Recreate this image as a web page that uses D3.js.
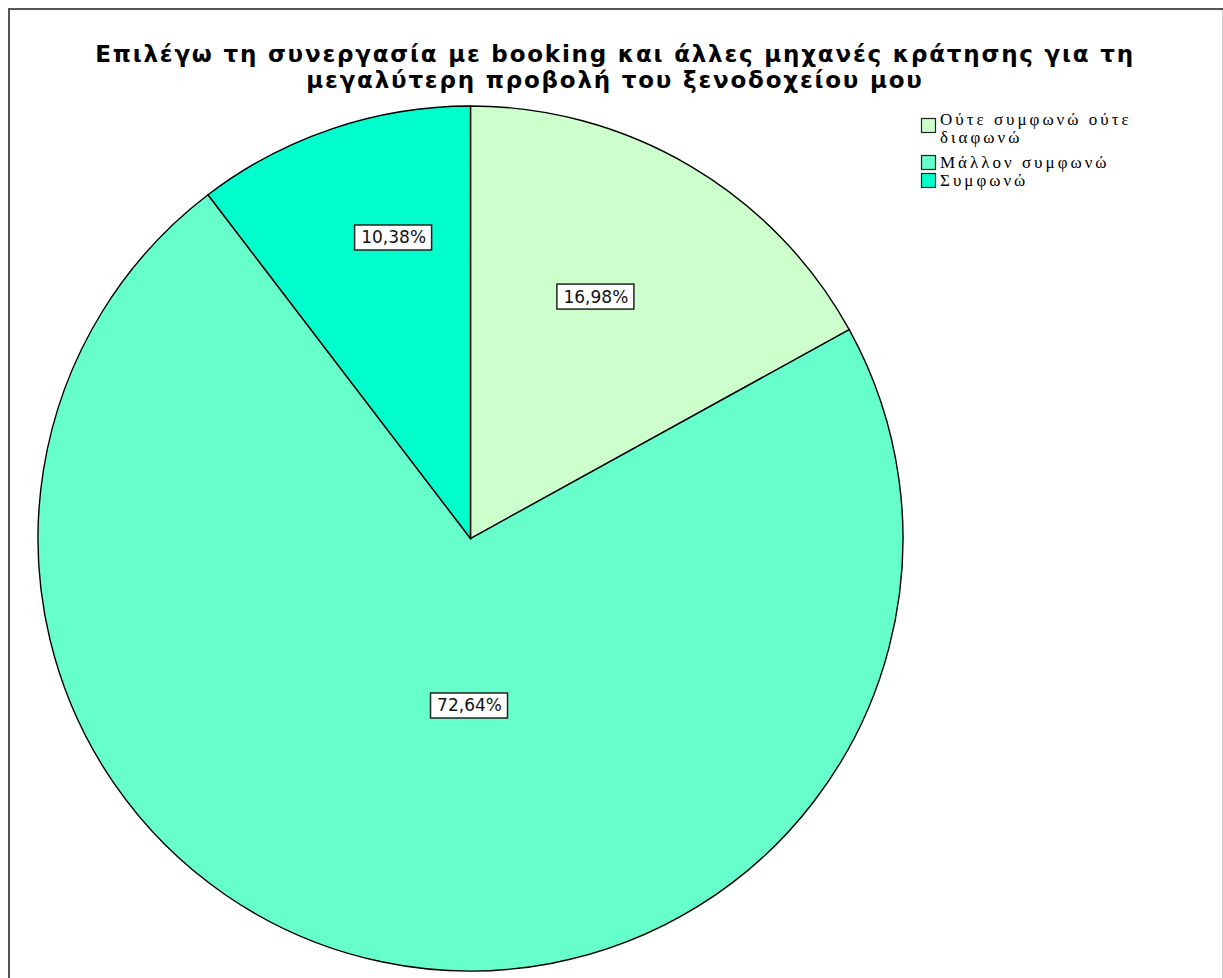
<!DOCTYPE html>
<html>
<head>
<meta charset="utf-8">
<script src="https://cdn.jsdelivr.net/npm/d3@7"></script>
<style>
  body { margin: 0; background: #fff; }
</style>
</head>
<body>
<div id="chart"></div>
<script>
// chart data
const categories = ["Ούτε συμφωνώ ούτε διαφωνώ", "Μάλλον συμφωνώ", "Συμφωνώ"];
const legendLines = [["Ούτε συμφωνώ ούτε", "διαφωνώ"], ["Μάλλον συμφωνώ"], ["Συμφωνώ"]];
const percents = [16.98, 72.64, 10.38];
const titleLines = ["Επιλέγω τη συνεργασία με booking και άλλες μηχανές κράτησης για τη",
                    "μεγαλύτερη προβολή του ξενοδοχείου μου"];

const colors = ["#ccffcc", "#66ffcc", "#00ffcc"];
// where each label sits: angle offset from slice middle (deg) and fraction of radius
const labelPlace = [{da: -3.4, rf: 0.63}, {da: -11.2, rf: 0.385}, {da: 4.2, rf: 0.72}];

const W = 1223, H = 978;
const cx = 470.5, cy = 538.5, R = 432.5;

var svg = d3.select("#chart").append("svg")
    .attr("width", W)
    .attr("height", H);

// frame
svg.append("line").attr("x1", 8).attr("y1", 9).attr("x2", W).attr("y2", 9)
    .attr("stroke", "#555").attr("stroke-width", 2);
svg.append("line").attr("x1", 9).attr("y1", 8).attr("x2", 9).attr("y2", H)
    .attr("stroke", "#555").attr("stroke-width", 2);
svg.append("line").attr("x1", W - 0.5).attr("y1", 10).attr("x2", W - 0.5).attr("y2", H)
    .attr("stroke", "#ccc").attr("stroke-width", 1);

// title
svg.append("g").selectAll("text")
    .data(titleLines)
    .enter()
    .append("text")
    .attr("x", 615)
    .attr("y", (d, i) => 62 + i * 26)
    .attr("text-anchor", "middle")
    .style("font-family", "DejaVu Sans, sans-serif")
    .style("font-size", "23px")
    .style("font-weight", "bold")
    .style("letter-spacing", "1.8px")
    .text(d => d);

// pie
var pie = d3.pie().sort(null).value(d => d);
var arc = d3.arc().innerRadius(0).outerRadius(R);
var arcs = pie(percents);

var g = svg.append("g").attr("transform", "translate(" + cx + "," + cy + ")");

g.selectAll("path")
    .data(arcs)
    .enter()
    .append("path")
    .attr("d", arc)
    .attr("fill", (d, i) => colors[i])
    .attr("stroke", "#000")
    .attr("stroke-width", 1.4);

// labels
var fmt = v => v.toFixed(2).replace(".", ",") + "%";

var lab = g.selectAll("g.lab")
    .data(arcs)
    .enter()
    .append("g")
    .attr("class", "lab")
    .attr("transform", function(d, i) {
        var a = (d.startAngle + d.endAngle) / 2 + labelPlace[i].da * Math.PI / 180;
        var r = R * labelPlace[i].rf;
        return "translate(" + (r * Math.sin(a)) + "," + (-r * Math.cos(a)) + ")";
    });

lab.append("rect")
    .attr("x", -38).attr("y", -12)
    .attr("width", 77).attr("height", 25)
    .attr("fill", "#fff")
    .attr("stroke", "#222")
    .attr("stroke-width", 1.5);

lab.append("text")
    .attr("x", 1)
    .attr("text-anchor", "middle")
    .attr("dy", "0.38em")
    .style("font-family", "DejaVu Sans, sans-serif")
    .style("font-size", "17px")
    .attr("fill", "#111")
    .text(d => fmt(d.data));

// legend
var legY = [118, 155, 173];
var leg = svg.append("g").attr("transform", "translate(921,0)");

leg.selectAll("rect")
    .data(categories)
    .enter()
    .append("rect")
    .attr("x", 0.5)
    .attr("y", (d, i) => legY[i] + 0.5)
    .attr("width", 14)
    .attr("height", 14)
    .attr("fill", (d, i) => colors[i])
    .attr("stroke", "#222")
    .attr("stroke-width", 1.2);

leg.selectAll("text")
    .data(legendLines)
    .enter()
    .append("text")
    .attr("y", (d, i) => legY[i] + (d.length > 1 ? 7 : 13))
    .style("font-family", "Liberation Serif, Times New Roman, serif")
    .style("font-size", "17px")
    .style("letter-spacing", "3px")
    .each(function(d) {
        d3.select(this).selectAll("tspan")
            .data(d)
            .enter()
            .append("tspan")
            .attr("x", 19)
            .attr("dy", (t, j) => j == 0 ? 0 : 18)
            .text(t => t);
    });
</script>
</body>
</html>
